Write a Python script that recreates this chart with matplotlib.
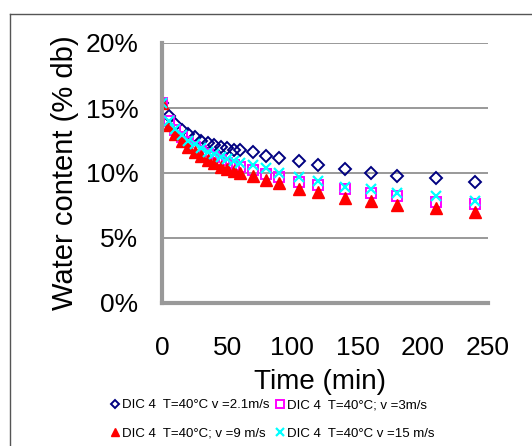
import matplotlib
matplotlib.use('Agg')
import matplotlib.pyplot as plt
from matplotlib.ticker import FuncFormatter
from matplotlib.lines import Line2D

plt.rcParams['font.family'] = ['Liberation Sans', 'DejaVu Sans']

# drying time (min)
time = [0, 5, 10, 15, 20, 25, 30, 35, 40, 45, 50, 55, 60,
        70, 80, 90, 105, 120, 140, 160, 180, 210, 240]

# water content (% db)
v21 = [15.4, 14.4, 13.8, 13.3, 13.0, 12.75, 12.5, 12.3, 12.15, 12.0, 11.9, 11.8, 11.75,
       11.6, 11.3, 11.15, 10.9, 10.6, 10.3, 10.0, 9.8, 9.6, 9.3]
v3 = [15.4, 14.0, 13.3, 12.8, 12.4, 12.0, 11.7, 11.45, 11.2, 11.0, 10.8, 10.6, 10.45,
      10.2, 9.95, 9.7, 9.3, 9.1, 8.75, 8.5, 8.25, 7.8, 7.6]
v9 = [15.4, 13.7, 13.0, 12.5, 12.0, 11.6, 11.3, 11.0, 10.75, 10.5, 10.3, 10.15, 10.0,
      9.8, 9.45, 9.2, 8.8, 8.55, 8.1, 7.85, 7.55, 7.3, 7.0]
v15 = [15.4, 14.0, 13.4, 12.9, 12.5, 12.2, 11.9, 11.65, 11.45, 11.25, 11.05, 10.9, 10.75,
       10.6, 10.35, 10.0, 9.7, 9.35, 8.95, 8.75, 8.45, 8.25, 7.85]

labels = ['DIC 4  T=40°C v =2.1m/s', 'DIC 4  T=40°C; v =3m/s',
          'DIC 4  T=40°C; v =9 m/s', 'DIC 4  T=40°C v =15 m/s']

fig = plt.figure(figsize=(5.32, 4.46), dpi=100)
ax = fig.add_axes([162/532, 1-303/446, 326/532, 260/446])

ms = 7
ax.plot(time, v21, linestyle='none', marker='D', ms=ms-1, mfc='none', mec='#000080', mew=1.4, label=labels[0])
ax.plot(time, v3, linestyle='none', marker='s', ms=ms, mfc='none', mec='#ff00ff', mew=1.4, label=labels[1])
ax.plot(time, v9, linestyle='none', marker='^', ms=ms+1, mfc='#ff0000', mec='#ff0000', label=labels[2])
ax.plot(time, v15, linestyle='none', marker='x', ms=ms, mec='#00ffff', mew=1.6, label=labels[3])

ax.set_xlim(0, 250)
ax.set_ylim(0, 20)
ax.set_xticks(range(0, 251, 50))
ax.set_yticks(range(0, 21, 5))
ax.yaxis.set_major_formatter(FuncFormatter(lambda v, p: '%d%%' % v))
ax.tick_params(length=0, labelsize=19)
ax.tick_params(axis='y', pad=17)
ax.tick_params(axis='x', pad=24)
ax.grid(axis='y', color='#999999', lw=1.4)
ax.set_axisbelow(True)
for s in ['top', 'right']:
    ax.spines[s].set_visible(False)
for s in ['left', 'bottom']:
    ax.spines[s].set_color('#999999')
    ax.spines[s].set_linewidth(3)

ax.set_ylabel('Water content (% db)', fontsize=21)
ax.yaxis.set_label_coords(-0.255, 0.5)
ax.set_xlabel('Time (min)', fontsize=20)
ax.xaxis.set_label_coords(0.486, -0.255)

h, l = ax.get_legend_handles_labels()
order = [0, 2, 1, 3]
fig.legend([h[i] for i in order], [l[i] for i in order], ncol=2, loc='upper left',
           bbox_to_anchor=(110/532, 1-399/446), frameon=False, fontsize=9.5,
           markerscale=0.75, handlelength=0.7, handletextpad=0.2, columnspacing=0.45,
           labelspacing=1.25, borderaxespad=0, borderpad=0)

# outer frame of the figure
fig.add_artist(Line2D([10/532, 1], [1-14/446, 1-14/446], color='#555555', lw=1))
fig.add_artist(Line2D([10/532, 10/532], [0, 1-14/446], color='#555555', lw=1))

plt.savefig('out.png', dpi=100)
